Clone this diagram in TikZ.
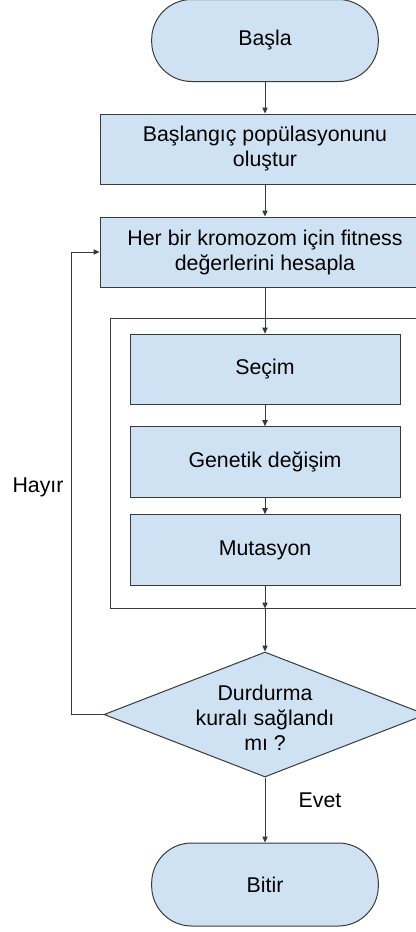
\documentclass[tikz,border=0pt]{standalone}
\usepackage{fontspec}
\setmainfont{Liberation Sans}
\usetikzlibrary{arrows.meta,shapes.geometric}
\definecolor{boxfill}{HTML}{CFE2F3}
\definecolor{boxline}{HTML}{3A3A3A}
\begin{document}
\begin{tikzpicture}[x=0.75pt,y=-0.75pt,
  font=\fontsize{16pt}{18.75pt}\selectfont,
  flowline/.style={draw=boxline,line width=0.75pt},
  arr/.style={flowline,-{Triangle[length=4.5pt,width=4pt]}},
  shape base/.style={draw=boxline,fill=boxfill,line width=0.75pt,inner sep=0pt,align=center},
  terminal/.style={shape base,rounded corners=30pt,minimum width=170pt,minimum height=61.5pt},
  widebox/.style={shape base,minimum width=247.5pt,minimum height=52.5pt},
  stepbox/.style={shape base,minimum width=202.5pt,minimum height=53pt},
  group/.style={draw=boxline,line width=0.75pt,fill=white,minimum width=232.5pt,minimum height=217.5pt,inner sep=0pt},
  decision/.style={shape base,diamond,minimum width=241.5pt,minimum height=93.75pt},
  tag/.style={inner sep=0pt}
]
\useasboundingbox (0,0) rectangle (416,932);
\clip (0,0) rectangle (416,932);

% main flow
\node[terminal] (start) at (265,40.5) {Başla};
\node[widebox] (init) at (265,149) {Başlangıç popülasyonunu\\oluştur};
\node[widebox] (fit) at (265,252) {Her bir kromozom için fitness\\değerlerini hesapla};

% genetic operators grouped in a frame
\node[group] (cont) at (265,463) {};
\node[stepbox] (sel) at (265,369.5) {Seçim};
\node[stepbox] (cross) at (265,462) {Genetik değişim};
\node[stepbox] (mut) at (265,550) {Mutasyon};

% stopping test and end
\node[decision] (dec) at (265,714.5) {};
\node[tag,align=center] (dectext) at (265,717.5) {Durdurma\\kuralı sağlandı\\mı ?};
\node[terminal,minimum height=62.25pt] (stop) at (265,884.5) {Bitir};

% connectors
\draw[arr] (start) -- (init);
\draw[arr] (init) -- (fit);
\draw[arr] (fit) -- (sel);
\draw[arr] (sel) -- (cross);
\draw[arr] (cross) -- (mut);
\draw[arr] (mut.south) -- (mut.south |- cont.south);
\draw[arr] (mut.south |- cont.south) -- (dec.north);
\draw[arr] (dec.south) -- (stop.north);
\draw[arr] (dec.west) -- ++(-32,0) |- (fit.west);

% branch labels
\node[tag] (no) at (38,487) {Hayır};
\node[tag] (yes) at (320,800) {Evet};
\end{tikzpicture}
\end{document}
